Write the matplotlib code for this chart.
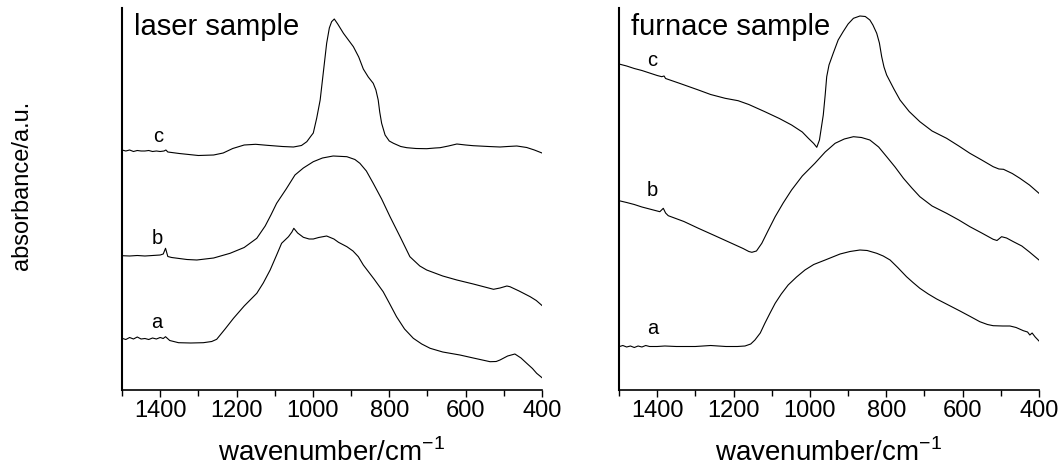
import matplotlib
matplotlib.use("Agg")
import matplotlib.pyplot as plt
import numpy as np

plt.rcParams['font.family'] = ['Liberation Sans', 'DejaVu Sans']
plt.rcParams['mathtext.fontset'] = 'custom'
plt.rcParams['mathtext.rm'] = 'Liberation Sans'

# ---- laser sample (wavenumber / cm-1, absorbance offset a.u.) ----
laser_c_wn = [1500, 1490, 1480, 1470, 1460, 1450, 1440, 1430, 1420, 1410, 1400, 1390, 1385, 1380,
              1350, 1300, 1260, 1235, 1210, 1180, 1150, 1120, 1080, 1051, 1030, 1016, 1005, 999,
              990, 981, 972, 964, 957, 951, 944, 935, 920, 907, 894, 880, 868, 855, 842, 835,
              829, 825, 820, 811, 800, 789, 770, 754, 730, 702, 680, 667, 645, 623, 600, 580,
              540, 510, 490, 466, 440, 420, 400]
laser_c = [240, 239, 240, 238.5, 239.5, 239, 239, 239.5, 238.5, 239, 238.5, 239, 240, 238,
           236.5, 234.5, 235, 237, 241.5, 245, 245.7, 244.7, 243.5, 243, 244.5, 248.3, 254, 257,
           272, 290, 320, 346.7, 362, 368.3, 371, 366, 356.7, 350, 343.3, 333, 321, 313, 306.7, 300,
           290, 278, 266.7, 255, 249, 246.7, 243.5, 242.3, 241.5, 241.3, 242, 242.3, 244, 246, 245, 244.3,
           243.5, 243, 243.5, 244, 242.5, 240, 237]

laser_b_wn = [1500, 1480, 1460, 1440, 1420, 1400, 1392, 1386, 1380, 1370, 1330, 1304, 1260, 1217,
              1180, 1147, 1125, 1110, 1095, 1070, 1047, 1025, 999, 975, 947, 911, 890, 877, 860,
              842, 820, 798, 770, 746, 720, 702, 660, 623, 580, 540, 527, 510, 492, 484, 460,
              431, 415, 400]
laser_b = [134.3, 134, 134.5, 134, 134.5, 135, 136, 141.7, 133.5, 132.5, 130.5, 130, 132, 136.7,
           142.5, 151.7, 164, 175, 186.7, 201, 215, 222, 228.3, 232, 234, 233.3, 230.5, 226.7, 219,
           206.7, 191, 173.3, 152, 133.3, 124, 120, 114, 110, 106, 102, 100.7, 102, 104, 103.3, 99,
           93.3, 89.5, 84.5]

laser_a_wn = [1500, 1490, 1480, 1470, 1460, 1450, 1440, 1430, 1420, 1410, 1400, 1392, 1386, 1375,
              1352, 1320, 1287, 1265, 1252, 1230, 1208, 1180, 1147, 1130, 1112, 1095, 1082, 1064,
              1055, 1050, 1040, 1025, 1010, 999, 985, 964, 945, 933, 911, 895, 881, 868, 840,
              816, 800, 781, 760, 737, 715, 693, 660, 615, 580, 536, 520, 510, 490, 471, 455,
              440, 425, 414, 400]
laser_a = [51.7, 50.5, 52.5, 51, 53, 51, 51.5, 50.5, 52, 51, 52.5, 51.5, 53.3, 49.5,
           47.3, 47, 47.3, 48.5, 50.7, 61, 71.7, 84, 96.7, 107, 120, 135, 146.7, 153.3,
           158, 161.7, 157, 152.7, 151, 151, 152.5, 154, 151, 147.7, 143.3, 139, 133.3, 125, 111,
           98.3, 87, 73.3, 61, 51.7, 46, 41.7, 38, 35, 32, 28.3, 28.5, 30, 34, 36, 32,
           26.7, 21.5, 16.7, 12.3]

# ---- furnace sample ----
furnace_c_wn = [1500, 1480, 1460, 1440, 1420, 1400, 1388, 1382, 1378, 1340, 1292, 1260, 1222, 1188,
                1160, 1118, 1080, 1048, 1020, 1004, 990, 982, 975, 969, 965, 960, 956, 950, 939,
                926, 913, 900, 886, 869, 855, 843, 835, 825, 818, 812, 806, 799, 780, 764, 740,
                712, 680, 642, 610, 581, 550, 520, 505, 493, 470, 450, 425, 400]
furnace_c = [326, 324, 321.5, 319.5, 317, 314.5, 313.3, 314, 311.5, 306.5, 300, 295.5, 291.7, 289.3,
             285.5, 278.3, 271.5, 265, 258, 251.7, 246.5, 242.7, 250, 265, 275, 295, 313.3, 325, 336.7,
             350, 358.3, 366, 371.7, 374, 373.5, 370, 365, 356.7, 347, 333.3, 323, 315, 301, 290, 278.5,
             268.3, 259, 251.7, 244, 236.7, 230, 223.3, 221, 220.7, 216.5, 211.7, 205, 196.7]

furnace_b_wn = [1500, 1480, 1460, 1440, 1420, 1400, 1393, 1384, 1378, 1371, 1330, 1292, 1250, 1205,
                1175, 1160, 1152, 1140, 1126, 1110, 1091, 1070, 1048, 1020, 987, 960, 934, 910,
                886, 865, 843, 820, 799, 777, 755, 733, 712, 680, 642, 610, 581, 550, 520, 510,
                498, 485, 467, 445, 425, 400]
furnace_b = [189.3, 187.5, 185.5, 183, 181, 179, 178.3, 181.7, 177, 174.3, 168.5, 161.7, 154.5, 146.7,
             141.5, 138.5, 137.7, 139, 146.7, 159, 173.3, 187, 200, 214, 226.7, 238, 246.7, 251,
             253.3, 252.5, 250, 243, 233.3, 223, 211.7, 202, 193.3, 184, 176.7, 170, 163.3, 157, 150.7, 149.5,
             153.3, 152, 148.3, 144, 138, 130]

furnace_a_wn = [1500, 1490, 1480, 1470, 1460, 1450, 1440, 1430, 1420, 1400, 1380, 1350, 1300, 1260,
                1220, 1190, 1170, 1155, 1144, 1130, 1118, 1105, 1091, 1075, 1057, 1035, 1013, 990,
                960, 934, 921, 895, 869, 850, 825, 808, 790, 770, 747, 730, 712, 690, 668, 640,
                607, 580, 555, 535, 520, 495, 476, 460, 441, 430, 424, 418, 410, 400]
furnace_a = [43.3, 44.5, 43, 44, 42.5, 44, 43, 44.5, 43.5, 43.5, 44, 43.5, 43.5, 44.5,
             43.5, 43.5, 44, 46, 50, 57, 66.7, 76.5, 86.7, 96, 105, 113, 120, 125.5,
             130, 134, 136, 138.5, 140, 139.5, 136.7, 134, 130, 122.5, 113.3, 107.5, 101.7, 96, 91, 85.5,
             79, 73.5, 68.3, 65.5, 64.3, 64, 64, 62.5, 59.3, 58, 55, 57, 53, 49]

trace_labels = ['a', 'b', 'c']
laser_label_pos = [(1408, 68), (1408, 152), (1406, 253)]
furnace_label_pos = [(1412, 62), (1412, 200), (1414, 330)]

panels = [
    ('laser sample', [(laser_a_wn, laser_a), (laser_b_wn, laser_b), (laser_c_wn, laser_c)],
     laser_label_pos, 122),
    ('furnace sample', [(furnace_a_wn, furnace_a), (furnace_b_wn, furnace_b), (furnace_c_wn, furnace_c)],
     furnace_label_pos, 619),
]

W, H = 1062, 472
fig = plt.figure(figsize=(W / 100, H / 100), dpi=100)

for title, curves, label_pos, left_px in panels:
    ax = fig.add_axes([left_px / W, (H - 390) / H, 420 / W, 382 / H])
    for wn, ab in curves:
        ax.plot(wn, ab, color='black', linewidth=0.8)
    for lab, (x, y) in zip(trace_labels, label_pos):
        ax.text(x, y, lab, fontsize=14.5, ha='center', va='center')
    ax.text(0.028, 0.95, title, transform=ax.transAxes, fontsize=21, ha='left', va='center')

    ax.set_xlim(1500, 400)
    ax.set_ylim(0, 382)
    ax.set_xticks(np.arange(1400, 399, -200))
    ax.set_xticks(np.arange(1500, 400, -200), minor=True)
    ax.set_yticks([])
    ax.tick_params(axis='x', which='major', direction='out', length=5, width=1,
                   labelsize=17, pad=2)
    ax.tick_params(axis='x', which='minor', direction='out', length=4, width=1)
    for side in ['top', 'right']:
        ax.spines[side].set_visible(False)
    ax.spines['left'].set_linewidth(1.5)
    ax.spines['bottom'].set_linewidth(1.2)
    ax.set_xlabel(r'wavenumber/cm$^{\mathregular{-1}}$', fontsize=20, labelpad=12)

fig.text(22 / W, 1 - 185 / H, 'absorbance/a.u.', rotation=90, fontsize=17,
         ha='center', va='center')

fig.savefig('out.png', dpi=100)
